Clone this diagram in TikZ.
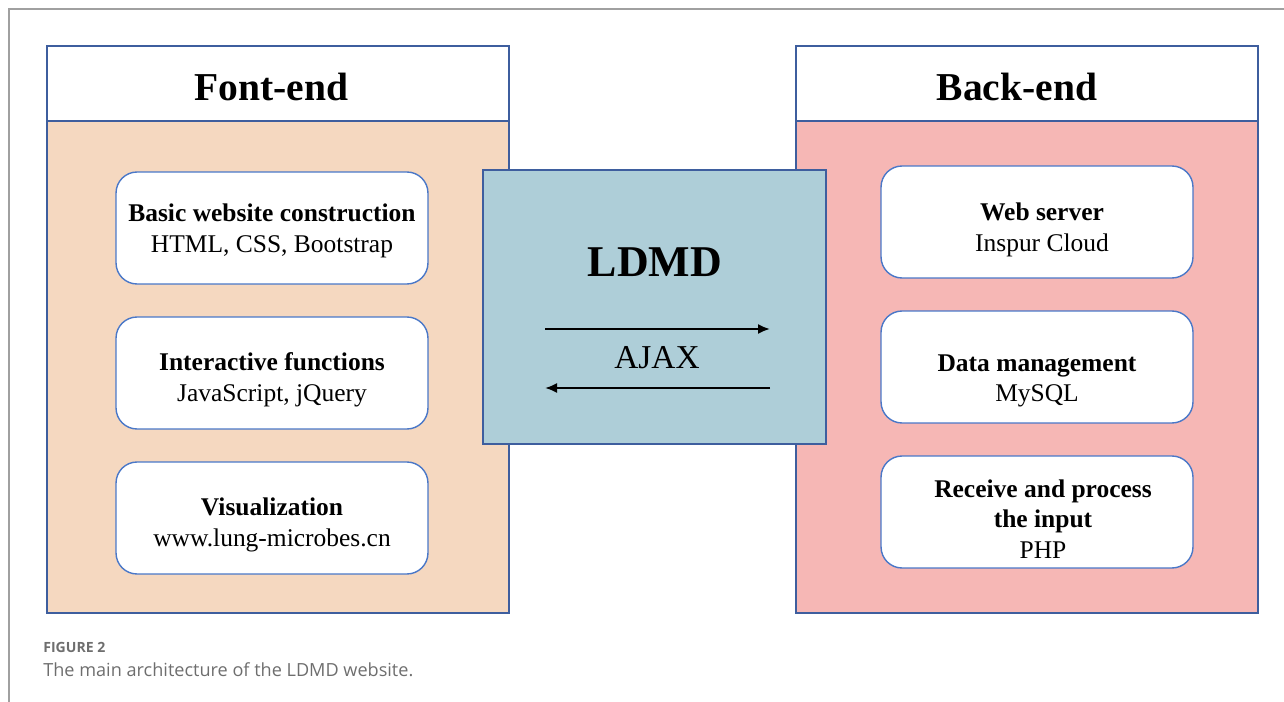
\documentclass[tikz,border=0pt]{standalone}
\usepackage{fontspec}
\setmainfont{Liberation Serif}
\newfontfamily\capfont{Open Sans}
\usetikzlibrary{positioning, arrows.meta, calc}

\definecolor{peach}{HTML}{F5D8C0}
\definecolor{rosy}{HTML}{F6B7B5}
\definecolor{ajaxblue}{HTML}{AECED8}
\definecolor{panelline}{HTML}{3E5E9E}
\definecolor{itemline}{HTML}{4A78C8}
\definecolor{framegray}{HTML}{A0A0A0}
\definecolor{capgray}{HTML}{6E6E6E}

\tikzset{
  head/.style={draw=panelline, line width=0.9pt, fill=white, minimum width=9.24cm, minimum height=1.5cm},
  headtext/.style={anchor=base, inner sep=0pt, font=\fontsize{22.5}{26}\selectfont\bfseries},
  panelbody/.style={draw=panelline, line width=0.9pt, minimum width=9.24cm, minimum height=9.84cm},
  item/.style={draw=itemline, line width=0.8pt, fill=white, rounded corners=0.42cm,
               minimum width=6.24cm, minimum height=2.24cm},
  itemtext/.style={align=center, inner sep=0pt, font=\fontsize{14.5}{17.4}\selectfont},
  flow/.style={line width=1.1pt, -{Latex[length=2.4mm, width=2mm]}}
}

\begin{document}
\begin{tikzpicture}[x=0.02cm, y=-0.02cm]
               \useasboundingbox (0,0) rectangle (1284,702);
               \draw[framegray, line width=0.7pt] (9,702)--(9,9)--(1284,9);
               % front end
               \node[panelbody, fill=peach] (frontbody) at (278,367) {};
               \node[head] (fronthead) at (278,83.5) {};
               \node[headtext] (fronttitle) at (271.5,101) {Font-end};
               \node[item] (basic) at (272,228) {};
               \node[item] (inter) at (272,373) {};
               \node[item] (visual) at (272,518) {};
               \node[itemtext] at ($(basic.center)+(0,3)$) {\textbf{Basic website construction}\\HTML, CSS, Bootstrap};
               \node[itemtext] at ($(inter.center)+(0,7)$) {\textbf{Interactive functions}\\JavaScript, jQuery};
               \node[itemtext] at ($(visual.center)+(0,7)$) {\textbf{Visualization}\\www.lung-microbes.cn};
               % back end
               \node[panelbody, fill=rosy] (backbody) at (1027,367) {};
               \node[head] (backhead) at (1027,83.5) {};
               \node[headtext] (backtitle) at (1017,101) {Back-end};
               \node[item] (server) at (1037,222) {};
               \node[item] (data) at (1037,367) {};
               \node[item] (php) at (1037,512) {};
               \node[itemtext] at ($(server.center)+(5,8)$) {\textbf{Web server}\\Inspur Cloud};
               \node[itemtext] at ($(data.center)+(0,14)$) {\textbf{Data management}\\MySQL};
               \node[itemtext] at ($(php.center)+(6,7)$) {\textbf{Receive and process}\\\textbf{the input}\\PHP};
               % middle
               \node[draw=panelline, line width=0.9pt, fill=ajaxblue, minimum width=6.86cm, minimum height=5.48cm] (ldmdbox) at (654.5,307) {};
               \node[font=\fontsize{25}{30}\selectfont\bfseries] (ldmd) at (655,262) {LDMD};
               \node[font=\fontsize{19}{23}\selectfont] (ajax) at (657,358) {AJAX};
               \coordinate (toL) at (545,329);
               \coordinate (toR) at (770,329);
               \coordinate (fromR) at (770,388);
               \coordinate (fromL) at (545,388);
               \draw[flow] (toL) -- (toR);
               \draw[flow] (fromR) -- (fromL);
               % caption
               \node[anchor=base west, inner sep=0pt, text=capgray, font=\capfont\bfseries\fontsize{8}{10}\selectfont] (figno) at (43,652) {FIGURE 2};
               \node[anchor=base west, inner sep=0pt, text=capgray, font=\capfont\fontsize{10.3}{12}\selectfont] (figtext) at (43,676) {The main architecture of the LDMD website.};
\end{tikzpicture}
\end{document}
